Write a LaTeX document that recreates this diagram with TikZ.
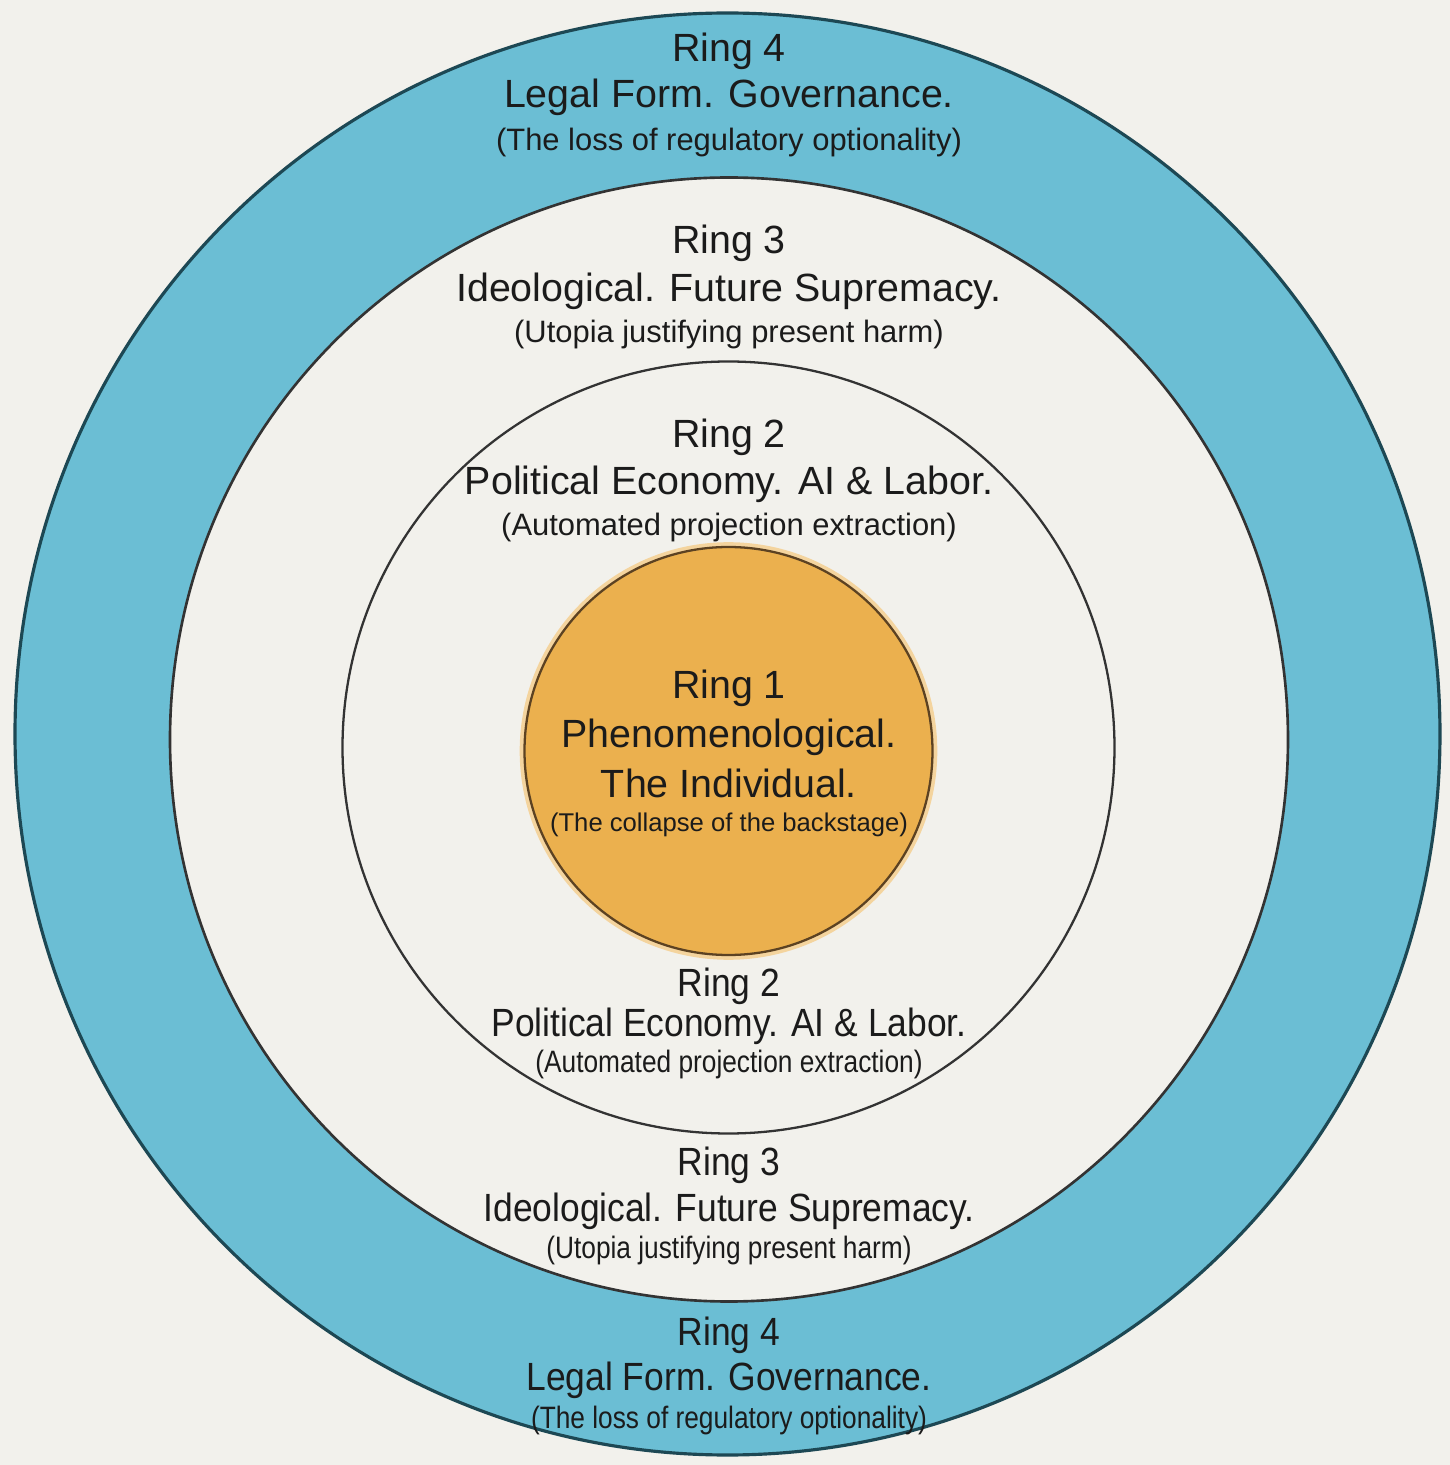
\documentclass[tikz,border=0pt]{standalone}
\usepackage{fontspec}
\setmainfont{Liberation Sans}
\newfontfamily\narrowmain[FakeStretch=0.9]{Liberation Sans}
\newfontfamily\narrownote[FakeStretch=0.85]{Liberation Sans}
\definecolor{paper}{HTML}{F2F1EC}
\definecolor{govblue}{HTML}{6BBED4}
\definecolor{govedge}{HTML}{1D4854}
\definecolor{ringedge}{HTML}{333333}
\definecolor{coreorange}{HTML}{EBB04E}
\definecolor{coreedge}{HTML}{5C4222}
\definecolor{ink}{HTML}{1B1B1B}

\begin{document}
\begin{tikzpicture}[
  head/.style={font=\fontsize{11.2}{13}\selectfont,text=ink,inner sep=0pt},
  note/.style={font=\fontsize{8.8}{10}\selectfont,text=ink,inner sep=0pt},
  corenote/.style={font=\fontsize{7.3}{9}\selectfont,text=ink,inner sep=0pt},
  headlow/.style={font=\narrowmain\fontsize{11.2}{13}\selectfont,text=ink,inner sep=0pt},
  notelow/.style={font=\narrownote\fontsize{8.8}{10}\selectfont,text=ink,inner sep=0pt}]
\fill[paper] (0,0) rectangle (14.5,14.65);
\useasboundingbox (0,0) rectangle (14.5,14.65);
\draw[fill=govblue,draw=govedge,line width=0.9pt] (7.275,7.31) ellipse (7.125 and 7.21);
\draw[fill=paper,draw=ringedge,line width=0.75pt] (7.29,7.255) ellipse (5.59 and 5.62);
\draw[fill=paper,draw=ringedge,line width=0.65pt] (7.285,7.175) circle (3.86);
\draw[coreorange!55,line width=1.6pt] (7.285,7.14) circle (2.06);
\draw[fill=coreorange,draw=coreedge,line width=0.65pt] (7.285,7.14) circle (2.04);

\node[head] (r4top) at (7.29,14.14) {Ring 4};
\node[head] (r4topname) at (7.29,13.68) {Legal Form. Governance.};
\node[note] (r4topnote) at (7.29,13.22) {(The loss of regulatory optionality)};
\node[head] (r3top) at (7.29,12.22) {Ring 3};
\node[head] (r3topname) at (7.29,11.74) {Ideological. Future Supremacy.};
\node[note] (r3topnote) at (7.29,11.30) {(Utopia justifying present harm)};
\node[head] (r2top) at (7.29,10.28) {Ring 2};
\node[head] (r2topname) at (7.29,9.81) {Political Economy. AI \& Labor.};
\node[note] (r2topnote) at (7.29,9.37) {(Automated projection extraction)};

\node[head] (r1) at (7.29,7.77) {Ring 1};
\node[head] (r1name) at (7.29,7.28) {Phenomenological.};
\node[head] (r1who) at (7.29,6.82) {The Individual.};
\node[corenote] (r1note) at (7.29,6.40) {(The collapse of the backstage)};

\node[headlow] (r2low) at (7.29,4.79) {Ring 2};
\node[headlow] (r2lowname) at (7.29,4.39) {Political Economy. AI \& Labor.};
\node[notelow] (r2lownote) at (7.29,4.00) {(Automated projection extraction)};
\node[headlow] (r3low) at (7.29,3.00) {Ring 3};
\node[headlow] (r3lowname) at (7.29,2.54) {Ideological. Future Supremacy.};
\node[notelow] (r3lownote) at (7.29,2.14) {(Utopia justifying present harm)};
\node[headlow] (r4low) at (7.29,1.30) {Ring 4};
\node[headlow] (r4lowname) at (7.29,0.85) {Legal Form. Governance.};
\node[notelow] (r4lownote) at (7.29,0.44) {(The loss of regulatory optionality)};

\end{tikzpicture}
\end{document}
